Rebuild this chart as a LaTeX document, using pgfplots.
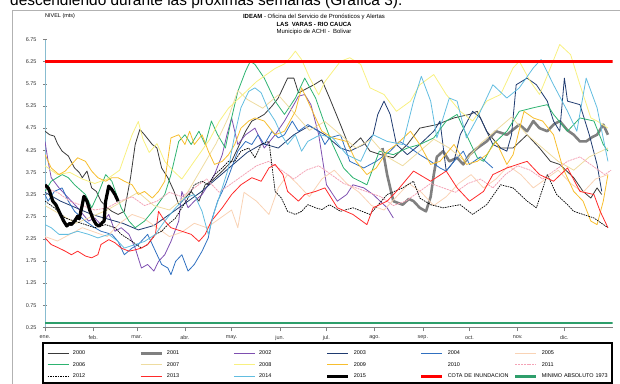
\documentclass[border=0pt]{standalone}
\usepackage{fontspec}
\setmainfont{Liberation Sans}
\usepackage{pgfplots}
\pgfplotsset{compat=1.18}
\definecolor{c2000}{HTML}{3A3A3A}
\definecolor{c2001}{HTML}{808080}
\definecolor{c2002}{HTML}{7E4FB0}
\definecolor{c2003}{HTML}{1F3B70}
\definecolor{c2004}{HTML}{3070C0}
\definecolor{c2005}{HTML}{F9D3B5}
\definecolor{c2006}{HTML}{2DB370}
\definecolor{c2007}{HTML}{EEDCA0}
\definecolor{c2008}{HTML}{F8F080}
\definecolor{c2009}{HTML}{F7BE2E}
\definecolor{c2011}{HTML}{F4A3B6}
\definecolor{c2013}{HTML}{FF2A2A}
\definecolor{c2014}{HTML}{62BDE0}
\definecolor{cota}{HTML}{FF0000}
\definecolor{cmin}{HTML}{2E9E6B}
\definecolor{yaxis}{HTML}{88BCD0}
\begin{document}
\begin{tikzpicture}
\useasboundingbox (0,0) rectangle (620bp,-384bp);
\node[anchor=base west, font=\fontsize{15.5}{16}\selectfont, inner sep=0pt] at (10bp,-5bp) {descendiendo durante las próximas semanas (Gráfica 3).};
\draw[gray!60, line width=0.7bp] (12bp,-384bp) -- (12bp,-10bp) -- (620bp,-10bp);
\node[font=\fontsize{6}{7}\selectfont, inner sep=0pt] at (314bp,-16.5bp) {\textbf{IDEAM} - Oficina del Servicio de Pronósticos y Alertas};
\node[font=\bfseries\fontsize{6}{7}\selectfont, inner sep=0pt] at (314bp,-24.3bp) {LAS\ \ VARAS - RIO CAUCA};
\node[font=\fontsize{6}{7}\selectfont, inner sep=0pt] at (314bp,-32.3bp) {Municipio de ACHI - \ Bolivar};
\node[font=\fontsize{5.5}{7}\selectfont, inner sep=0pt, anchor=west] at (45bp,-16.5bp) {NIVEL (mts)};
\begin{axis}[
  at={(45bp,-327.3bp)}, anchor=south west,
  scale only axis, width=567.6bp, height=287.7bp,
  xmin=0, xmax=365, ymin=0.25, ymax=6.75,
  axis x line*=bottom, axis y line*=left,
  x axis line style={gray, line width=0.6bp},
  y axis line style={yaxis, line width=0.8bp},
  xtick={0,31,59,90,120,151,181,212,243,273,304,334},
  xticklabels={ene.,feb.,mar.,abr.,may.,jun.,jul.,ago.,sep.,oct.,nov.,dic.},
  ytick={0.25,0.75,1.25,1.75,2.25,2.75,3.25,3.75,4.25,4.75,5.25,5.75,6.25,6.75},
  yticklabels={0.25,0.75,1.25,1.75,2.25,2.75,3.25,3.75,4.25,4.75,5.25,5.75,6.25,6.75},
  tick label style={font=\fontsize{5.5}{6}\selectfont, text=black!80},
  ytick align=center, xtick align=outside,
  major tick length=4bp,
  tick style={gray, line width=0.5bp},
  yticklabel style={xshift=-3bp},
  xticklabel style={yshift=-1bp},
  legend columns=6,
  legend cell align=left,
  legend style={at={(axis description cs:0.0035,-0.0772)}, anchor=north west,
    draw=none, fill=none, font=\fontsize{5.5}{6}\selectfont,
    inner xsep=0bp, inner ysep=0bp, row sep=4.5bp,
    /tikz/every odd column/.append style={column sep=2bp},
    /tikz/every even column/.append style={column sep=1.8bp},
    nodes={text width=62.6bp, inner xsep=2bp, inner ysep=1bp, text height=4bp, text depth=1bp}},
  legend image code/.code={\draw[#1] (0bp,0bp) -- (21bp,0bp);},
  every axis plot/.append style={line join=round},
]
% 2000
\addplot[c2000, line width=0.8bp] coordinates {(0,4.68)(3,4.60)(6,4.57)(8,4.40)(11,4.23)(15,4.12)(19,3.85)(22,3.75)(24,3.63)(27,3.78)(30,3.40)(33,3.32)(36,3.10)(40,2.95)(43,2.87)(47,2.80)(51,2.87)(55,3.63)(58,4.38)(61,4.72)(64,4.60)(69,4.38)(72,4.30)(75,3.85)(79,3.63)(83,3.32)(86,3.02)(90,3.17)(94,3.32)(99,3.10)(103,3.47)(107,3.55)(114,3.78)(120,4.00)(124,4.30)(129,4.68)(133,4.91)(137,4.98)(141,5.06)(146,5.25)(150,5.43)(154,5.73)(156,5.88)(160,5.88)(163,5.55)(167,5.62)(173,5.73)(178,5.84)(183,5.43)(190,4.83)(196,4.30)(203,4.53)(209,4.23)(216,4.15)(224,4.08)(233,4.38)(241,4.75)(252,4.83)(263,4.98)(273,5.06)(278,5.13)(284,4.68)(293,4.30)(301,4.30)(310,4.60)(318,4.30)(325,4.00)(331,3.93)(340,3.63)(346,3.32)(351,3.17)(355,3.40)(358,3.25)};
\addlegendentry{2000}
% 2001
\addplot[c2001, line width=2.6bp] coordinates {(217,4.30)(220,3.70)(224,3.10)(230,3.02)(234,3.15)(237,3.10)(241,2.95)(245,2.87)(248,3.20)(250,3.70)(252,4.10)(256,4.23)(260,4.00)(265,4.08)(269,3.93)(273,4.15)(278,4.30)(284,4.45)(290,4.68)(297,4.60)(305,4.83)(310,4.68)(314,4.91)(318,4.75)(323,4.68)(327,4.83)(331,4.91)(336,4.70)(340,4.60)(344,4.45)(348,4.45)(352,4.55)(355,4.60)(359,4.83)(362,4.60)};
\addlegendentry{2001}
% 2002
\addplot[c2002, line width=0.8bp] coordinates {(0,4.45)(2,4.00)(4,3.63)(9,3.40)(13,3.25)(17,3.10)(21,2.95)(28,2.65)(32,2.72)(36,2.57)(41,2.80)(45,2.42)(49,2.50)(54,2.35)(58,2.04)(62,1.59)(66,1.67)(70,1.52)(73,1.74)(77,1.89)(81,2.19)(86,2.65)(88,3.32)(92,2.95)(96,3.10)(101,3.25)(105,3.47)(109,3.70)(114,4.15)(117,4.60)(120,4.98)(124,4.38)(129,4.60)(135,4.75)(141,4.30)(148,4.60)(154,4.91)(160,5.28)(163,5.47)(167,5.51)(171,5.28)(176,4.60)(180,3.70)(181,3.47)(188,3.10)(194,3.25)(198,3.47)(205,3.40)(211,3.25)(220,2.95)(224,2.72)};
\addlegendentry{2002}
% 2003
\addplot[c2003, line width=0.8bp] coordinates {(0,3.30)(10,3.10)(20,2.95)(30,2.80)(40,2.70)(50,2.60)(60,2.45)(70,2.55)(80,2.80)(90,3.05)(100,3.30)(110,3.60)(120,3.90)(130,4.20)(140,4.40)(150,4.30)(160,4.60)(170,4.80)(180,4.60)(190,4.30)(196,4.23)(205,4.38)(211,4.60)(214,5.06)(218,5.36)(222,5.06)(226,4.38)(233,4.15)(241,4.38)(250,4.68)(254,4.91)(258,3.78)(263,4.00)(267,4.60)(275,5.13)(280,4.98)(288,4.38)(297,4.23)(300,4.60)(303,5.73)(310,5.88)(316,5.73)(323,5.36)(327,4.91)(331,4.68)(334,5.88)(336,5.36)(344,5.28)(350,4.60)(355,3.93)(358,3.32)};
\addlegendentry{2003}
% 2004
\addplot[c2004, line width=0.8bp] coordinates {(0,3.25)(2,3.10)(6,3.32)(11,3.40)(15,3.10)(19,2.87)(26,2.65)(32,2.50)(36,2.42)(43,2.35)(47,2.19)(51,1.89)(56,2.04)(60,2.12)(66,2.35)(71,1.97)(75,1.67)(79,1.59)(81,1.44)(84,1.74)(88,1.89)(92,1.52)(96,1.67)(101,1.97)(105,2.27)(107,2.65)(111,3.10)(116,3.47)(120,3.85)(124,4.23)(129,4.45)(133,4.38)(137,4.60)(141,4.38)(146,4.68)(150,4.53)(154,4.60)(159,4.91)(163,4.68)(169,4.83)(176,4.68)(180,4.38)(183,4.53)(190,4.60)(196,4.00)(205,3.85)(213,4.00)(222,4.23)(228,4.45)(235,4.30)(241,4.15)(248,4.00)(254,3.85)(258,3.78)(263,4.00)(269,4.23)(273,3.93)(280,4.10)(288,3.85)};
\addlegendentry{2004}
% 2005
\addplot[c2005, line width=0.8bp] coordinates {(0,2.30)(8,2.20)(16,2.35)(24,2.50)(32,2.40)(40,2.30)(48,2.60)(56,2.80)(64,2.70)(72,2.50)(80,2.30)(88,2.40)(96,2.60)(104,2.50)(112,2.70)(120,2.90)(124,2.50)(128,3.30)(136,3.10)(144,2.80)(150,3.40)(156,3.70)(162,3.50)(170,3.20)(178,3.60)(186,3.80)(194,3.50)(202,3.30)(210,3.00)(218,2.90)(226,3.20)(234,3.50)(242,3.30)(250,3.00)(258,3.20)(266,3.50)(274,3.70)(282,3.40)(290,3.60)(298,3.90)(306,3.70)(314,3.40)(322,3.60)(330,3.80)(338,3.50)(346,3.30)(354,3.60)(362,3.70)};
\addlegendentry{2005}
% 2006
\addplot[c2006, line width=0.8bp] coordinates {(0,3.32)(4,3.55)(11,3.70)(15,3.63)(19,3.47)(26,3.25)(30,2.95)(34,3.25)(39,3.70)(43,3.55)(49,2.95)(54,2.65)(58,2.50)(64,2.65)(71,2.95)(77,3.25)(81,3.70)(86,4.45)(90,4.60)(94,4.38)(99,4.68)(103,4.38)(107,4.91)(111,4.60)(116,4.30)(120,4.98)(124,5.58)(129,6.04)(132,6.26)(135,6.19)(141,5.88)(148,5.36)(154,5.06)(161,5.43)(167,5.88)(174,5.43)(180,4.83)(185,4.38)(192,3.85)(198,3.63)(207,3.47)(215,4.23)(224,4.15)(233,4.30)(241,4.38)(250,4.53)(258,4.91)(265,5.06)(271,4.60)(278,4.08)(282,4.00)(288,4.38)(297,4.68)(305,5.13)(314,5.21)(323,5.28)(327,5.06)(336,4.68)(344,4.98)(353,4.91)(359,4.38)(362,4.23)};
\addlegendentry{2006}
% 2007
\addplot[c2007, line width=0.8bp] coordinates {(0,3.00)(10,2.80)(20,2.60)(30,2.75)(40,2.90)(50,3.10)(60,3.30)(70,3.00)(80,2.90)(90,3.20)(100,3.80)(110,4.40)(118,5.00)(124,5.60)(130,5.40)(140,5.20)(150,5.50)(160,5.10)(170,4.70)(180,4.90)(190,4.60)(200,4.30)(210,4.50)(220,4.10)(230,3.90)(240,4.20)(250,4.50)(260,4.30)(270,4.00)(280,4.40)(290,4.70)(300,5.00)(310,4.60)(320,4.30)(330,4.00)(340,3.80)(350,4.10)(362,4.30)};
\addlegendentry{2007}
% 2008
\addplot[c2008, line width=0.8bp] coordinates {(0,3.90)(8,3.70)(16,3.75)(24,3.60)(32,3.50)(40,3.60)(48,3.80)(52,4.20)(56,4.60)(60,4.90)(63,4.50)(67,4.20)(72,4.40)(77,4.00)(82,3.80)(88,3.60)(94,3.90)(100,4.20)(106,4.50)(112,4.90)(118,5.20)(124,5.40)(130,5.60)(136,5.80)(142,5.95)(148,6.10)(154,6.20)(158,6.35)(161,6.49)(165,6.30)(170,5.90)(176,5.50)(180,5.80)(190,6.26)(196,6.34)(203,6.19)(209,5.66)(218,5.51)(226,5.13)(235,5.36)(241,5.73)(250,5.96)(258,5.51)(267,5.13)(275,4.91)(284,5.36)(293,5.51)(301,6.11)(305,6.26)(312,5.81)(318,5.51)(325,6.11)(331,6.64)(338,6.41)(344,5.73)(351,4.98)(355,4.91)(362,4.75)};
\addlegendentry{2008}
% 2009
\addplot[c2009, line width=0.8bp] coordinates {(0,4.15)(4,3.85)(9,3.70)(13,3.78)(17,3.93)(21,4.08)(26,4.00)(30,3.78)(34,3.63)(39,3.55)(43,3.63)(47,3.63)(51,3.55)(56,3.47)(60,3.25)(64,3.32)(69,3.17)(73,3.32)(77,3.55)(81,4.53)(86,4.60)(90,4.38)(93,4.68)(96,4.38)(101,4.60)(105,4.23)(109,3.93)(114,4.00)(118,4.15)(122,4.38)(126,4.75)(131,4.91)(135,4.98)(141,4.91)(148,4.60)(154,4.68)(161,5.13)(165,5.66)(169,5.36)(174,4.98)(178,4.68)(185,4.53)(194,4.45)(200,4.00)(207,3.70)(213,3.85)(220,4.23)(226,4.38)(235,4.68)(241,4.38)(248,3.93)(254,4.00)(263,4.38)(271,3.93)(278,4.00)(284,4.15)(290,4.45)(297,3.93)(301,4.15)(308,5.13)(314,4.98)(320,4.91)(327,4.60)(333,3.85)(340,3.32)(346,3.10)(351,2.65)(355,2.57)(359,3.10)(362,3.70)};
\addlegendentry{2009}
% 2010 (white)
\addlegendimage{white, line width=0.8bp}
\addlegendentry{2010}
% 2011
\addplot[c2011, line width=0.8bp, dash pattern=on 2bp off 0.8bp] coordinates {(0,3.40)(8,3.30)(16,3.10)(24,3.00)(32,2.90)(40,2.95)(48,3.10)(56,3.20)(64,3.00)(72,3.10)(80,3.30)(88,3.20)(96,3.40)(104,3.60)(112,3.30)(120,3.50)(128,3.70)(136,3.90)(144,4.00)(152,3.80)(160,3.60)(168,3.80)(176,3.90)(184,3.70)(192,3.50)(200,3.40)(208,3.30)(216,3.20)(224,3.00)(232,3.10)(240,3.30)(248,3.50)(256,3.40)(264,3.30)(272,3.50)(280,3.60)(288,3.40)(296,3.70)(304,3.90)(312,3.80)(320,3.60)(328,3.80)(336,4.00)(344,4.10)(352,3.90)(360,3.70)(364,3.80)};
\addlegendentry{2011}
% 2012
\addplot[black, line width=0.7bp, dash pattern=on 1.6bp off 0.9bp] coordinates {(0,3.10)(6,2.95)(13,2.72)(19,2.65)(26,2.57)(32,2.50)(39,2.57)(45,2.50)(49,2.35)(56,2.19)(62,2.04)(66,2.12)(71,2.35)(75,2.42)(79,2.57)(84,2.72)(88,2.95)(92,3.17)(96,3.47)(101,3.55)(105,3.47)(109,3.70)(114,3.85)(118,4.00)(122,4.00)(126,4.23)(131,4.30)(135,4.08)(139,4.38)(144,4.45)(148,3.32)(152,3.17)(156,2.87)(161,2.80)(165,2.87)(169,3.02)(174,2.95)(178,2.91)(183,3.02)(190,2.87)(198,2.95)(209,2.80)(220,3.25)(230,3.40)(237,3.55)(241,3.17)(248,3.02)(256,2.95)(267,3.02)(275,2.80)(284,3.02)(293,3.47)(301,3.40)(310,3.10)(316,2.95)(323,3.70)(329,3.25)(336,3.02)(340,2.87)(346,2.80)(353,2.72)(362,2.50)};
\addlegendentry{2012}
% 2013
\addplot[c2013, line width=0.8bp] coordinates {(0,2.27)(4,2.12)(9,2.04)(13,1.97)(17,1.89)(21,1.97)(26,1.86)(30,1.82)(34,1.89)(36,2.12)(41,2.23)(45,2.16)(49,2.04)(54,1.97)(58,2.00)(62,2.04)(66,2.12)(71,2.35)(73,2.87)(77,2.65)(81,2.50)(88,2.42)(94,2.35)(99,2.19)(103,2.35)(107,2.65)(114,2.95)(120,3.25)(126,3.47)(133,3.63)(139,3.55)(144,3.85)(148,3.93)(153,3.70)(156,3.32)(163,3.10)(167,3.25)(174,3.32)(180,3.40)(188,2.95)(198,2.80)(207,2.57)(211,2.95)(220,3.10)(226,3.32)(237,3.78)(248,3.55)(258,3.78)(265,3.40)(273,3.10)(282,3.32)(288,3.70)(297,3.85)(310,4.00)(318,3.70)(327,3.55)(336,3.85)(344,3.32)(353,3.25)(357,2.87)(362,2.50)};
\addlegendentry{2013}
% 2014
\addplot[c2014, line width=0.8bp] coordinates {(0,2.57)(4,2.50)(9,2.35)(15,2.35)(21,2.42)(28,2.35)(34,2.27)(41,2.35)(47,2.19)(51,2.04)(58,2.12)(64,2.19)(71,2.35)(77,2.65)(84,2.95)(90,3.17)(96,3.25)(101,2.87)(105,2.35)(109,2.87)(114,3.40)(118,3.85)(122,4.60)(126,5.21)(131,5.58)(135,5.66)(139,5.55)(144,5.13)(148,4.91)(152,4.60)(156,4.38)(161,4.60)(165,4.23)(169,4.45)(177,4.60)(185,4.53)(194,4.15)(203,4.00)(211,4.60)(220,4.45)(230,4.38)(237,5.36)(242,5.92)(248,5.36)(252,4.53)(256,4.98)(260,5.43)(265,5.36)(271,4.53)(278,4.98)(284,5.43)(288,5.73)(297,5.43)(305,5.66)(314,6.11)(319,6.30)(327,5.73)(336,5.13)(342,4.68)(348,5.88)(355,5.21)(362,4.00)};
\addlegendentry{2014}
% 2015
\addplot[black, line width=3.2bp] coordinates {(0,3.47)(2,3.40)(3,3.32)(5,3.10)(7,3.02)(9,2.87)(12,2.65)(14,2.54)(16,2.60)(17,2.57)(19,2.65)(21,2.76)(22,2.70)(24,3.02)(25,3.21)(27,3.10)(29,2.87)(31,2.69)(33,2.57)(35,2.54)(37,2.62)(38,2.65)(39,3.10)(41,3.44)(43,3.36)(45,3.25)(47,3.10)};
\addlegendentry{2015}
% cota
\addplot[cota, line width=2.6bp] coordinates {(0,6.25)(365,6.25)};
\addlegendentry{COTA DE INUNDACION}
% minimo
\addplot[cmin, line width=2.6bp] coordinates {(0,0.35)(365,0.35)};
\addlegendentry{\mbox{MINIMO ABSOLUTO 1973}}
\end{axis}
\draw[black, line width=1.6bp] (43bp,-343bp) rectangle (612bp,-383bp);
\end{tikzpicture}
\end{document}
